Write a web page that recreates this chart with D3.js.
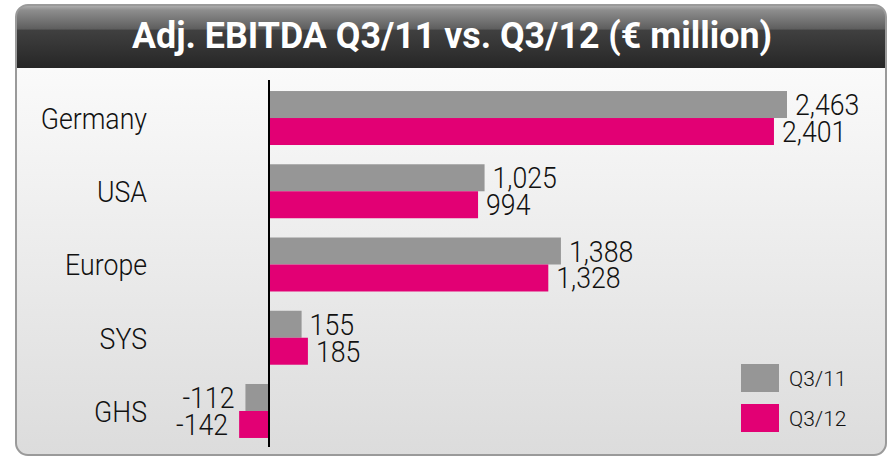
<!DOCTYPE html>
<html>
<head>
<meta charset="utf-8">
<script src="https://cdn.jsdelivr.net/npm/d3@7"></script>
<style>
  body { margin: 0; background: #ffffff; }
  text { font-family: "Roboto", "Liberation Sans", sans-serif; }
</style>
</head>
<body>
<div id="chart"></div>
<script>
// Adj. EBITDA chart, grouped horizontal bars

// data
var categories = ["Germany", "USA", "Europe", "SYS", "GHS"];
var seriesNames = ["Q3/11", "Q3/12"];
var valuesQ311 = [2463, 1025, 1388, 155, -112];
var valuesQ312 = [2401, 994, 1328, 185, -142];
var valueLabelsQ311 = ["2,463", "1,025", "1,388", "155", "-112"];
var valueLabelsQ312 = ["2,401", "994", "1,328", "185", "-142"];
var titleText = "Adj. EBITDA Q3/11 vs. Q3/12 (\u20AC million)";

var width = 893, height = 456;
var colors = { "Q3/11": "#969696", "Q3/12": "#e20074" };
var squeeze = 0.92;   // narrow the label glyphs a bit

// rows built from the arrays
var rows = categories.map(function (c, i) {
  return {
    cat: c,
    bars: [
      { series: "Q3/11", value: valuesQ311[i], label: valueLabelsQ311[i] },
      { series: "Q3/12", value: valuesQ312[i], label: valueLabelsQ312[i] }
    ]
  };
});

var svg = d3.select("#chart").append("svg")
  .attr("width", width)
  .attr("height", height);

var defs = svg.append("defs");

// glossy header gradient
var hg = defs.append("linearGradient").attr("id", "headGrad")
  .attr("x1", 0).attr("y1", 0).attr("x2", 0).attr("y2", 1);
hg.append("stop").attr("offset", "0%").attr("stop-color", "#b4b4b4");
hg.append("stop").attr("offset", "8%").attr("stop-color", "#8e8e8e");
hg.append("stop").attr("offset", "38%").attr("stop-color", "#5e5e5e");
hg.append("stop").attr("offset", "40%").attr("stop-color", "#404040");
hg.append("stop").attr("offset", "100%").attr("stop-color", "#262626");

// body gradient
var bg = defs.append("linearGradient").attr("id", "bodyGrad")
  .attr("x1", 0).attr("y1", 0).attr("x2", 0).attr("y2", 1);
bg.append("stop").attr("offset", "0%").attr("stop-color", "#ffffff");
bg.append("stop").attr("offset", "100%").attr("stop-color", "#dcdcdc");

var panel = { x: 16, y: 5, w: 870, h: 450, r: 12, headH: 63 };

defs.append("clipPath").attr("id", "panelClip")
  .append("rect")
  .attr("x", panel.x).attr("y", panel.y)
  .attr("width", panel.w).attr("height", panel.h)
  .attr("rx", panel.r);

var pg = svg.append("g").attr("clip-path", "url(#panelClip)");

pg.append("rect")
  .attr("x", panel.x).attr("y", panel.y)
  .attr("width", panel.w).attr("height", panel.h)
  .attr("fill", "url(#bodyGrad)");

pg.append("rect")
  .attr("x", panel.x).attr("y", panel.y)
  .attr("width", panel.w).attr("height", panel.headH)
  .attr("fill", "url(#headGrad)");

svg.append("rect")
  .attr("x", panel.x).attr("y", panel.y)
  .attr("width", panel.w).attr("height", panel.h)
  .attr("rx", panel.r)
  .attr("fill", "none")
  .attr("stroke", "#9a9a9a")
  .attr("stroke-width", 2);

// title
svg.append("text")
  .attr("x", 452)
  .attr("y", 48)
  .attr("text-anchor", "middle")
  .attr("fill", "#ffffff")
  .attr("font-family", "Liberation Sans, sans-serif")
  .attr("font-size", "37px")
  .attr("font-weight", "bold")
  .attr("textLength", 640)
  .attr("lengthAdjust", "spacingAndGlyphs")
  .text(titleText);

// scales
var xScale = d3.scaleLinear()
  .domain([0, 2463])
  .range([269, 787]);

var yScale = d3.scaleBand()
  .domain(categories)
  .range([81.4, 447.6])
  .paddingInner(0.263)
  .paddingOuter(0.1315);

var ySub = d3.scaleBand()
  .domain(seriesNames)
  .range([0, yScale.bandwidth()]);

// bars
var groups = svg.selectAll("g.row")
  .data(rows)
  .enter().append("g")
  .attr("class", "row")
  .attr("transform", function (d) { return "translate(0," + yScale(d.cat) + ")"; });

groups.selectAll("rect")
  .data(function (d) { return d.bars; })
  .enter().append("rect")
  .attr("x", function (d) { return xScale(Math.min(0, d.value)); })
  .attr("y", function (d) { return ySub(d.series); })
  .attr("width", function (d) { return Math.abs(xScale(d.value) - xScale(0)); })
  .attr("height", ySub.bandwidth())
  .attr("fill", function (d) { return colors[d.series]; });

// value labels
groups.selectAll("text.val")
  .data(function (d) { return d.bars; })
  .enter().append("text")
  .attr("class", "val")
  .attr("transform", function (d) {
    var tx = d.value >= 0 ? xScale(d.value) + 8 : xScale(d.value) - 11;
    var ty = ySub(d.series) + ySub.bandwidth() / 2 + 10.5;
    return "translate(" + tx + "," + ty + ") scale(" + squeeze + ",1)";
  })
  .attr("text-anchor", function (d) { return d.value >= 0 ? "start" : "end"; })
  .attr("font-size", "29px")
  .attr("font-weight", 300)
  .attr("fill", "#111111")
  .text(function (d) { return d.label; });

// category labels
svg.selectAll("text.cat")
  .data(categories)
  .enter().append("text")
  .attr("class", "cat")
  .attr("transform", function (d) {
    return "translate(147," + (yScale(d) + yScale.bandwidth() / 2 + 10.8) + ") scale(" + squeeze + ",1)";
  })
  .attr("text-anchor", "end")
  .attr("font-size", "29px")
  .attr("font-weight", 300)
  .attr("fill", "#111111")
  .text(function (d) { return d; });

// zero axis line
svg.append("line")
  .attr("x1", xScale(0)).attr("x2", xScale(0))
  .attr("y1", 80).attr("y2", 447)
  .attr("stroke", "#000000")
  .attr("stroke-width", 2);

// legend
var legend = svg.selectAll("g.legend")
  .data(seriesNames)
  .enter().append("g")
  .attr("class", "legend")
  .attr("transform", function (d, i) { return "translate(741," + (364 + i * 40) + ")"; });

legend.append("rect")
  .attr("width", 38)
  .attr("height", 28)
  .attr("fill", function (d) { return colors[d]; });

legend.append("text")
  .attr("x", 48)
  .attr("y", 22)
  .attr("font-size", "21px")
  .attr("font-weight", 300)
  .attr("fill", "#111111")
  .text(function (d) { return d; });
</script>
</body>
</html>
